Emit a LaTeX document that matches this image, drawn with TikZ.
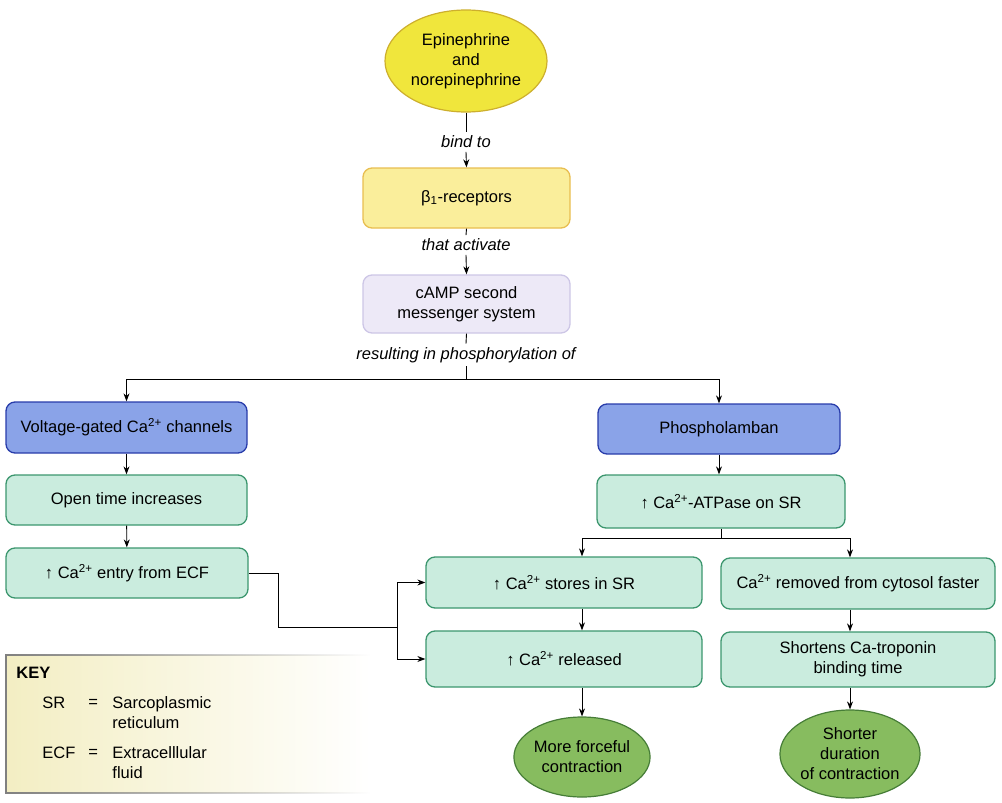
\documentclass[tikz,border=0pt]{standalone}
\usepackage{fontspec}
\setmainfont{Liberation Sans}
\usetikzlibrary{arrows.meta,positioning,shapes.geometric,fadings}

\definecolor{epiyellow}{RGB}{240,230,60}
\definecolor{epiborder}{RGB}{205,175,45}
\definecolor{betafill}{RGB}{250,238,155}
\definecolor{betaborder}{RGB}{232,190,80}
\definecolor{campfill}{RGB}{237,233,247}
\definecolor{campborder}{RGB}{205,198,230}
\definecolor{chanfill}{RGB}{138,163,232}
\definecolor{chanborder}{RGB}{40,60,170}
\definecolor{stepfill}{RGB}{202,236,222}
\definecolor{stepborder}{RGB}{60,150,110}
\definecolor{endfill}{RGB}{135,188,95}
\definecolor{endborder}{RGB}{70,125,55}
\definecolor{keyfill}{RGB}{243,238,195}

\newcommand{\flowfont}{\fontsize{16.5}{20}\selectfont}

\tikzset{
  box/.style={draw, rounded corners=9pt, line width=1.3pt, align=center, inner sep=0pt},
  chanbox/.style={box, draw=chanborder, fill=chanfill},
  stepbox/.style={box, draw=stepborder, fill=stepfill},
  endoval/.style={ellipse, draw=endborder, fill=endfill, line width=1.2pt, align=center, inner sep=0pt},
  link/.style={font=\flowfont\itshape},
  keytext/.style={anchor=west, inner sep=0pt, align=left},
  arr/.style={-{Stealth[length=8pt,width=6pt]}, line width=0.9pt},
}

\begin{document}
\begin{tikzpicture}[x=1pt,y=-1pt,font=\flowfont, line width=0.9pt]
    \useasboundingbox (0,0) rectangle (1002,803);

    % cascade at the top
    \node[ellipse, draw=epiborder, fill=epiyellow, line width=1.2pt, align=center,
          inner sep=0pt, minimum width=162, minimum height=102] (epi) at (466,61)
        {Epinephrine\\and\\norepinephrine};
    \node[link] (bind) at (466,142) {bind to};
    \node[box, draw=betaborder, fill=betafill, minimum width=207, minimum height=60]
        (beta) at (466.5,198) {β\textsubscript{1}-receptors};
    \node[link] (activate) at (466,245) {that activate};
    \node[box, draw=campborder, fill=campfill, minimum width=207, minimum height=58]
        (camp) at (466.5,304) {cAMP second\\messenger system};
    \node[link] (phosph) at (466,355) {resulting in phosphorylation of};
    \coordinate (split) at (466,379);

    % left branch
    \node[chanbox, minimum width=241, minimum height=51] (volt) at (126.5,427.5)
        {Voltage-gated Ca\textsuperscript{2+} channels};
    \node[stepbox, minimum width=241, minimum height=50] (open) at (126.5,500)
        {Open time increases};
    \node[stepbox, minimum width=242, minimum height=50] (entry) at (127,573)
        {↑ Ca\textsuperscript{2+} entry from ECF};
    \coordinate (joint) at (397,627);

    % right branch
    \node[chanbox, minimum width=242, minimum height=50] (phos) at (719,429)
        {Phospholamban};
    \node[stepbox, minimum width=248, minimum height=53] (atp) at (721,501.5)
        {↑ Ca\textsuperscript{2+}-ATPase on SR};
    \node[stepbox, minimum width=276, minimum height=51] (stores) at (564,582.5)
        {↑ Ca\textsuperscript{2+} stores in SR};
    \node[stepbox, minimum width=276, minimum height=56] (released) at (564,659)
        {↑ Ca\textsuperscript{2+} released};
    \node[stepbox, minimum width=274, minimum height=51] (removed) at (858,583.5)
        {Ca\textsuperscript{2+} removed from cytosol faster};
    \node[stepbox, minimum width=274, minimum height=55] (shortens) at (858,659.5)
        {Shortens Ca-troponin\\binding time};
    \node[endoval, minimum width=134, minimum height=80] (forceful) at (582,757)
        {More forceful\\contraction};
    \node[endoval, minimum width=134, minimum height=88] (shorter) at (850,754)
        {Shorter\\duration\\of contraction};

    % connectors
    \draw (epi.south) -- (bind.north);
    \draw[arr] (bind.south) -- (beta.north);
    \draw (beta.south) -- (activate.north);
    \draw[arr] (activate.south) -- (camp.north);
    \draw (camp.south) -- (phosph.north);
    \draw (phosph.south) -- (split);
    \draw[arr] (split) -| (volt.north);
    \draw[arr] (split) -| (phos.north);
    \draw[arr] (volt) -- (open);
    \draw[arr] (open) -- (entry);
    \draw (entry.east) -- ++(30,0) |- (joint);
    \draw[arr] (joint) |- (stores.west);
    \draw[arr] (joint) |- (released.west);
    \draw[arr] (phos.south) -- (phos.south |- atp.north);
    \draw (atp.south) -- ++(0,10) coordinate (fork);
    \draw[arr] (fork) -| (stores.north -| forceful.north);
    \draw[arr] (fork) -| (removed.north -| shorter.north);
    \draw[arr] (stores.south -| forceful.north) -- (released.north -| forceful.north);
    \draw[arr] (released.south -| forceful.north) -- (forceful.north);
    \draw[arr] (removed.south -| shorter.north) -- (shortens.north -| shorter.north);
    \draw[arr] (shortens.south -| shorter.north) -- (shorter.north);

    % key
    \fill[keyfill, path fading=east] (6,655) rectangle (370,793);
    \draw[gray, line width=1.6pt, path fading=east] (370,655) -- (6,655) -- (6,793) -- (370,793);
    \node[keytext, font=\flowfont\bfseries] (key) at (16,673) {KEY};
    \node[keytext] (sr) at (42,703) {SR};
    \node[keytext] (eqsr) at (88,703) {=};
    \node[keytext] (srtext) at (112,712.5) {Sarcoplasmic\\reticulum};
    \node[keytext] (ecf) at (42,753) {ECF};
    \node[keytext] (eqecf) at (88,753) {=};
    \node[keytext] (ecftext) at (112,762.5) {Extracelllular\\fluid};
\end{tikzpicture}
\end{document}
